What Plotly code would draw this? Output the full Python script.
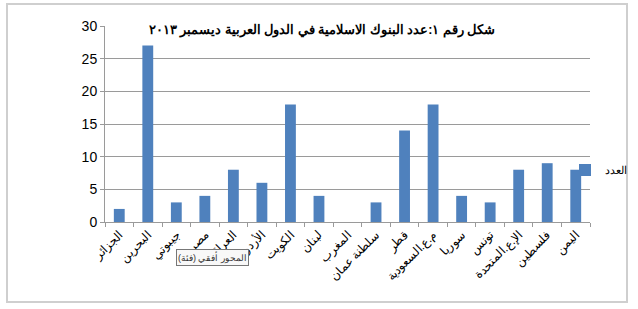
import plotly.graph_objects as go

categories = ["الجزائر", "البحرين", "جيبوتي", "مصر", "العراق", "الأردن", "الكويت",
              "لبنان", "المغرب", "سلطنة عمان", "قطر", "م.ع.السعودية", "سوريا",
              "تونس", "الإ.ع.المتحدة", "فلسطين", "اليمن"]
values = [2, 27, 3, 4, 8, 6, 18, 4, 0, 3, 14, 18, 4, 3, 8, 9, 8]
series_name = "العدد"
title_text = "شكل رقم ١:عدد البنوك الاسلامية في الدول العربية ديسمبر ٢٠١٣"
tooltip_text = "المحور أفقي (فئة)"

W, H = 638, 309
L, R, T, B = 105, 48, 26, 87
PW, PH = W - L - R, H - T - B

def px(x):
    return (x - L) / PW

def py(y):
    return 1 - (y - T) / PH

fig = go.Figure()
fig.add_trace(go.Bar(x=categories, y=values, name=series_name,
                     marker=dict(color="#4F81BD", line=dict(width=0))))

fig.update_layout(
    width=W, height=H,
    margin=dict(l=L, r=R, t=T, b=B, autoexpand=False),
    paper_bgcolor="white", plot_bgcolor="white",
    bargap=0.62,
    font=dict(family="Liberation Sans, Arial, sans-serif", color="black"),
    showlegend=True,
    legend=dict(x=px(565), y=py(170),
                xanchor="left", yanchor="middle",
                font=dict(size=11), bgcolor="rgba(0,0,0,0)",
                itemwidth=30, tracegroupgap=0),
)
fig.update_yaxes(range=[0, 30], dtick=5, showgrid=True, gridcolor="#9a9a9a", gridwidth=1,
                 showline=True, linecolor="#9a9a9a", ticks="outside", ticklen=4,
                 tickcolor="#9a9a9a", tickfont=dict(size=14), zeroline=False)
fig.update_xaxes(showline=True, linecolor="#9a9a9a", ticks="outside", ticklen=4,
                 tickcolor="#9a9a9a", tickson="boundaries", tickangle=-45,
                 tickfont=dict(size=12))

fig.add_annotation(text="<b>" + title_text + "</b>", xref="paper", yref="paper",
                   x=px(322), y=py(30),
                   showarrow=False, font=dict(size=12.5), xanchor="center", yanchor="middle")
fig.add_annotation(text=tooltip_text, xref="paper", yref="paper",
                   x=px(212), y=py(257),
                   showarrow=False, font=dict(size=9, color="#333"), xanchor="center",
                   yanchor="middle", bgcolor="#f8f8f8", bordercolor="#777", borderwidth=1,
                   borderpad=1)
# outer frame
fig.add_shape(type="rect", xref="paper", yref="paper",
              x0=px(7), x1=px(627), y0=py(302), y1=py(4),
              line=dict(color="#cfcfcf", width=2), layer="below")

fig.write_html("out.html")
